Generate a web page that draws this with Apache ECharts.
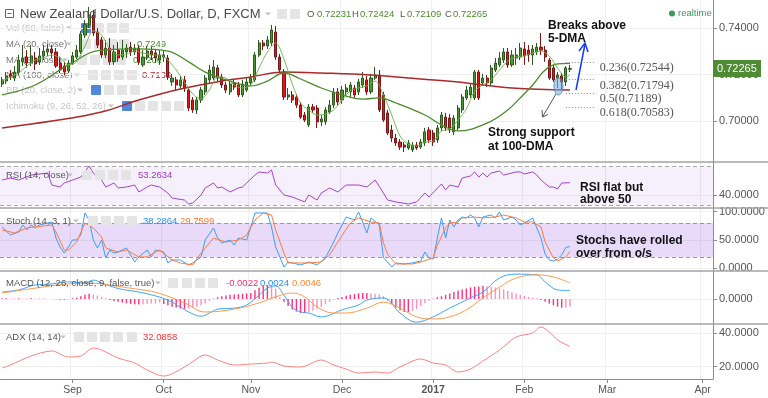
<!DOCTYPE html>
<html>
<head>
<meta charset="utf-8">
<title>NZD/USD D</title>
<script src="https://cdn.jsdelivr.net/npm/echarts@6.0.0/dist/echarts.min.js"></script>
<style>
  html, body { margin: 0; padding: 0; background: #fff; }
  #chart { width: 768px; height: 398px; }
</style>
</head>
<body>
<div id="chart"></div>
<script>
// one category per weekday, first bar Tue 9 Aug 2016, axis runs into early April 2017
const days = []
for (let d = new Date(Date.UTC(2016, 7, 9)); days.length < 172; d.setUTCDate(d.getUTCDate() + 1)) {
    const wd = d.getUTCDay()
    if (wd !== 0 && wd !== 6) days.push(d.toISOString().slice(0, 10))
}
const monthNames = ['Jan', 'Feb', 'Mar', 'Apr', 'May', 'Jun', 'Jul', 'Aug', 'Sep', 'Oct', 'Nov', 'Dec']

// daily candles [open, close, low, high]
const candles = [
    [0.7159, 0.7177, 0.7146, 0.7190], [0.7172, 0.7194, 0.7159, 0.7211], [0.7203, 0.7190, 0.7177, 0.7220], [0.7185, 0.7211, 0.7172, 0.7237],
    [0.7207, 0.7263, 0.7198, 0.7285], [0.7255, 0.7272, 0.7237, 0.7328], [0.7276, 0.7250, 0.7229, 0.7306], [0.7250, 0.7281, 0.7237, 0.7328],
    [0.7272, 0.7246, 0.7220, 0.7298], [0.7255, 0.7281, 0.7242, 0.7315], [0.7281, 0.7302, 0.7263, 0.7328], [0.7298, 0.7311, 0.7281, 0.7332],
    [0.7311, 0.7294, 0.7272, 0.7328], [0.7298, 0.7237, 0.7229, 0.7315], [0.7250, 0.7220, 0.7207, 0.7272], [0.7237, 0.7211, 0.7198, 0.7255],
    [0.7216, 0.7250, 0.7207, 0.7263], [0.7250, 0.7281, 0.7242, 0.7298], [0.7276, 0.7306, 0.7268, 0.7328], [0.7298, 0.7376, 0.7289, 0.7389],
    [0.7371, 0.7415, 0.7358, 0.7436], [0.7415, 0.7458, 0.7402, 0.7493], [0.7458, 0.7380, 0.7367, 0.7480], [0.7384, 0.7328, 0.7315, 0.7402],
    [0.7350, 0.7285, 0.7272, 0.7363], [0.7285, 0.7315, 0.7272, 0.7350], [0.7315, 0.7255, 0.7242, 0.7358], [0.7255, 0.7298, 0.7242, 0.7328],
    [0.7306, 0.7272, 0.7255, 0.7341], [0.7276, 0.7306, 0.7263, 0.7350], [0.7298, 0.7315, 0.7272, 0.7332], [0.7319, 0.7298, 0.7281, 0.7341],
    [0.7298, 0.7315, 0.7285, 0.7332], [0.7315, 0.7255, 0.7242, 0.7328], [0.7242, 0.7276, 0.7233, 0.7306], [0.7276, 0.7302, 0.7263, 0.7324],
    [0.7302, 0.7285, 0.7263, 0.7319], [0.7294, 0.7272, 0.7250, 0.7311], [0.7263, 0.7285, 0.7242, 0.7306], [0.7276, 0.7285, 0.7255, 0.7306],
    [0.7272, 0.7190, 0.7177, 0.7285], [0.7168, 0.7185, 0.7151, 0.7203], [0.7177, 0.7155, 0.7133, 0.7190], [0.7151, 0.7177, 0.7138, 0.7194],
    [0.7177, 0.7142, 0.7125, 0.7194], [0.7133, 0.7055, 0.7042, 0.7146], [0.7090, 0.7047, 0.7034, 0.7103], [0.7047, 0.7090, 0.7029, 0.7103],
    [0.7090, 0.7133, 0.7077, 0.7146], [0.7125, 0.7185, 0.7112, 0.7198], [0.7177, 0.7220, 0.7164, 0.7242], [0.7185, 0.7233, 0.7177, 0.7263],
    [0.7229, 0.7185, 0.7168, 0.7242], [0.7190, 0.7155, 0.7142, 0.7203], [0.7155, 0.7133, 0.7120, 0.7168], [0.7125, 0.7159, 0.7112, 0.7177],
    [0.7164, 0.7146, 0.7133, 0.7177], [0.7155, 0.7112, 0.7103, 0.7168], [0.7112, 0.7159, 0.7103, 0.7177], [0.7133, 0.7168, 0.7125, 0.7185],
    [0.7164, 0.7185, 0.7151, 0.7203], [0.7177, 0.7285, 0.7168, 0.7298], [0.7285, 0.7337, 0.7276, 0.7350], [0.7337, 0.7324, 0.7306, 0.7350],
    [0.7324, 0.7350, 0.7311, 0.7367], [0.7337, 0.7393, 0.7324, 0.7415], [0.7384, 0.7276, 0.7263, 0.7410], [0.7276, 0.7220, 0.7207, 0.7289],
    [0.7211, 0.7103, 0.7090, 0.7224], [0.7103, 0.7112, 0.7090, 0.7142], [0.7112, 0.7090, 0.7077, 0.7129], [0.7103, 0.7068, 0.7055, 0.7116],
    [0.7068, 0.7016, 0.7008, 0.7081], [0.7025, 0.7003, 0.6995, 0.7038], [0.6982, 0.7060, 0.6973, 0.7073], [0.7060, 0.7047, 0.7034, 0.7073],
    [0.7055, 0.6995, 0.6969, 0.7068], [0.6995, 0.7008, 0.6977, 0.7025], [0.6995, 0.7047, 0.6982, 0.7060], [0.7038, 0.7068, 0.7029, 0.7090],
    [0.7068, 0.7125, 0.7055, 0.7142], [0.7125, 0.7081, 0.7068, 0.7142], [0.7090, 0.7133, 0.7073, 0.7151], [0.7125, 0.7142, 0.7107, 0.7159],
    [0.7125, 0.7155, 0.7103, 0.7168], [0.7142, 0.7112, 0.7099, 0.7155], [0.7125, 0.7168, 0.7112, 0.7181], [0.7155, 0.7185, 0.7142, 0.7211],
    [0.7177, 0.7125, 0.7112, 0.7194], [0.7125, 0.7185, 0.7116, 0.7203], [0.7185, 0.7198, 0.7177, 0.7233], [0.7198, 0.7047, 0.7038, 0.7220],
    [0.7112, 0.7003, 0.6995, 0.7125], [0.7034, 0.6947, 0.6938, 0.7047], [0.6960, 0.6925, 0.6908, 0.6982], [0.6925, 0.6904, 0.6891, 0.6943],
    [0.6908, 0.6886, 0.6874, 0.6921], [0.6895, 0.6886, 0.6865, 0.6908], [0.6882, 0.6904, 0.6874, 0.6917], [0.6874, 0.6895, 0.6865, 0.6908],
    [0.6895, 0.6882, 0.6874, 0.6908], [0.6886, 0.6908, 0.6878, 0.6921], [0.6904, 0.6952, 0.6891, 0.6969], [0.6960, 0.6917, 0.6904, 0.6973],
    [0.6947, 0.6908, 0.6891, 0.6960], [0.6917, 0.6969, 0.6904, 0.6982], [0.6969, 0.7025, 0.6956, 0.7038], [0.7016, 0.6969, 0.6956, 0.7034],
    [0.7012, 0.6960, 0.6947, 0.7029], [0.6952, 0.7012, 0.6938, 0.7025], [0.6969, 0.7055, 0.6960, 0.7068], [0.7047, 0.7103, 0.7034, 0.7116],
    [0.7099, 0.7133, 0.7090, 0.7151], [0.7112, 0.7146, 0.7099, 0.7159], [0.7099, 0.7211, 0.7090, 0.7220], [0.7211, 0.7099, 0.7090, 0.7220],
    [0.7164, 0.7185, 0.7151, 0.7203], [0.7185, 0.7164, 0.7146, 0.7198], [0.7164, 0.7229, 0.7151, 0.7242], [0.7220, 0.7250, 0.7211, 0.7272],
    [0.7242, 0.7272, 0.7233, 0.7298], [0.7263, 0.7298, 0.7250, 0.7315], [0.7298, 0.7242, 0.7229, 0.7315], [0.7242, 0.7285, 0.7233, 0.7306],
    [0.7272, 0.7285, 0.7242, 0.7315], [0.7276, 0.7315, 0.7263, 0.7337], [0.7311, 0.7281, 0.7242, 0.7341], [0.7306, 0.7285, 0.7255, 0.7328],
    [0.7285, 0.7311, 0.7242, 0.7328], [0.7298, 0.7319, 0.7285, 0.7337], [0.7319, 0.7306, 0.7285, 0.7380], [0.7306, 0.7276, 0.7255, 0.7324],
    [0.7263, 0.7185, 0.7177, 0.7272], [0.7229, 0.7177, 0.7168, 0.7242], [0.7185, 0.7198, 0.7142, 0.7211], [0.7194, 0.7168, 0.7133, 0.7207],
    [0.7168, 0.7229, 0.7151, 0.7237], [0.72231, 0.72265, 0.72109, 0.72424]
]

// moving averages: [bar index, value]
const ma5 = [[0, 0.7172], [2, 0.7190], [4, 0.7207], [6, 0.7237], [8, 0.7263], [10, 0.7272], [12, 0.7285], [14, 0.7272], [16, 0.7242], [18, 0.7255],
    [20, 0.7324], [22, 0.7389], [24, 0.7371], [26, 0.7311], [28, 0.7285], [30, 0.7289], [32, 0.7302], [34, 0.7294], [36, 0.7285], [38, 0.7285],
    [40, 0.7263], [42, 0.7220], [44, 0.7168], [46, 0.7116], [48, 0.7094], [50, 0.7133], [52, 0.7190], [54, 0.7185], [56, 0.7155], [58, 0.7142],
    [60, 0.7155], [62, 0.7229], [64, 0.7298], [66, 0.7337], [68, 0.7268], [70, 0.7159], [72, 0.7077], [74, 0.7047], [76, 0.7025], [78, 0.7029],
    [80, 0.7047], [82, 0.7090], [84, 0.7129], [86, 0.7142], [88, 0.7151], [90, 0.7172], [92, 0.7112], [94, 0.7025], [96, 0.6934], [98, 0.6899],
    [100, 0.6891], [102, 0.6908], [104, 0.6912], [106, 0.6956], [108, 0.6964], [110, 0.7003], [112, 0.7051], [114, 0.7129], [116, 0.7155], [118, 0.7177],
    [120, 0.7220], [122, 0.7259], [124, 0.7276], [126, 0.7281], [128, 0.7294], [130, 0.7302], [132, 0.7281], [134, 0.7229], [136, 0.7190], [137, 0.7198]]
const ma20 = [[0, 0.7112], [8, 0.7155], [16, 0.7242], [24, 0.7306], [33, 0.7311], [40, 0.7302], [45, 0.7255], [49, 0.7211], [54, 0.7177], [60, 0.7151],
    [64, 0.7172], [68, 0.7207], [72, 0.7181], [77, 0.7142], [83, 0.7107], [87, 0.7094], [91, 0.7099], [95, 0.7077], [102, 0.7025], [106, 0.6982],
    [110, 0.6956], [117, 0.6990], [122, 0.7047], [125, 0.7099], [128, 0.7155], [131, 0.7220], [134, 0.7246], [137, 0.7249]]
const ma100 = [[0, 0.6969], [12, 0.6999], [24, 0.7038], [33, 0.7090], [43, 0.7138], [53, 0.7172], [60, 0.7190], [68, 0.7211], [77, 0.7207],
    [89, 0.7198], [101, 0.7181], [110, 0.7168], [123, 0.7142], [137, 0.7133]]

// retracement levels drawn on the chart
const fibRatios = ['0.236', '0.382', '0.5', '0.618']
const fibLevels = [0.72544, 0.71794, 0.71189, 0.70583]

// indicators
const rsi = [[0, 56.1], [2, 58.2], [4, 56.1], [7, 61.3], [11, 63.4], [12, 50.9], [14, 48.8], [15, 53.0], [17, 56.1], [19, 59.2], [21, 70.7], [22, 63.4],
    [24, 56.1], [25, 48.8], [27, 53.0], [28, 47.8], [30, 48.8], [32, 50.9], [33, 43.6], [35, 48.8], [36, 50.9], [38, 48.8], [40, 42.5], [41, 37.3],
    [44, 35.2], [45, 31.1], [46, 32.1], [48, 40.5], [49, 47.8], [51, 53.0], [52, 47.8], [53, 48.8], [55, 43.6], [57, 47.8], [58, 48.8], [61, 61.3],
    [62, 64.5], [64, 63.4], [65, 66.6], [66, 50.9], [68, 40.5], [70, 38.4], [73, 33.2], [74, 40.5], [76, 35.2], [77, 42.5], [79, 47.8], [81, 43.6],
    [83, 50.9], [86, 50.9], [88, 48.8], [90, 56.1], [92, 42.5], [93, 35.2], [95, 33.2], [98, 31.1], [100, 33.2], [102, 42.5], [103, 38.4], [106, 52.0],
    [107, 45.7], [108, 50.9], [110, 48.8], [111, 58.2], [113, 60.3], [114, 64.5], [115, 59.2], [116, 63.4], [117, 59.2], [118, 63.4], [120, 65.5],
    [121, 61.3], [124, 64.5], [125, 64.5], [126, 62.4], [128, 64.5], [129, 61.3], [130, 56.1], [132, 48.8], [133, 48.8], [134, 46.7], [135, 53.0], [137, 53.26]]
const stochK = [[0, 73.0], [2, 58.8], [4, 64.1], [5, 76.5], [6, 67.7], [7, 76.5], [8, 71.2], [9, 76.5], [11, 80.0], [12, 81.8], [13, 53.5], [14, 37.6],
    [15, 27.0], [16, 37.6], [17, 50.0], [18, 50.0], [19, 58.8], [20, 97.7], [21, 85.3], [22, 50.0], [23, 35.9], [24, 50.0], [25, 18.2], [26, 32.3],
    [27, 27.0], [28, 28.8], [30, 35.9], [31, 23.5], [32, 11.1], [33, 20.0], [35, 32.3], [36, 20.0], [37, 32.3], [39, 28.8], [40, 9.4], [41, 14.7],
    [43, 14.7], [45, 5.8], [46, 9.4], [48, 20.0], [49, 50.0], [51, 71.2], [52, 53.5], [53, 44.7], [55, 50.0], [56, 41.2], [57, 53.5], [59, 50.0],
    [60, 73.0], [61, 97.7], [62, 97.7], [64, 97.7], [65, 73.0], [66, 37.6], [68, 2.3], [69, 11.1], [70, 9.4], [72, 5.8], [74, 11.1], [76, 5.8],
    [78, 18.2], [80, 46.5], [81, 62.4], [83, 90.6], [85, 85.3], [86, 99.5], [87, 81.8], [88, 62.4], [89, 88.9], [91, 76.5], [92, 18.2], [93, 11.1],
    [94, 2.3], [95, 9.4], [97, 7.6], [99, 9.4], [101, 12.9], [102, 28.8], [103, 18.2], [104, 16.4], [105, 53.5], [106, 88.9], [107, 53.5], [108, 85.3],
    [109, 73.0], [110, 85.3], [111, 90.6], [112, 88.9], [113, 94.2], [114, 88.9], [115, 73.0], [116, 90.6], [118, 94.2], [119, 88.9], [120, 99.5],
    [121, 85.3], [123, 90.6], [124, 85.3], [125, 76.5], [126, 80.0], [128, 88.9], [129, 71.2], [130, 53.5], [131, 25.0], [132, 14.7], [133, 12.9],
    [134, 16.4], [135, 23.5], [136, 37.0], [137, 38.29]]
const stochD = [[0, 67.7], [3, 62.4], [6, 71.2], [8, 73.0], [12, 76.5], [13, 64.1], [15, 32.3], [16, 32.3], [18, 46.5], [20, 80.0], [22, 71.2],
    [24, 55.3], [25, 35.9], [28, 28.8], [30, 32.3], [33, 20.0], [35, 20.0], [38, 32.3], [41, 14.7], [43, 9.4], [46, 5.8], [48, 27.0], [51, 53.5],
    [54, 46.5], [57, 50.0], [59, 58.8], [61, 85.3], [63, 97.7], [65, 94.2], [66, 67.7], [68, 27.0], [69, 9.4], [72, 9.4], [74, 9.4], [77, 11.1],
    [79, 23.5], [81, 46.5], [84, 80.0], [86, 88.9], [89, 81.8], [91, 80.0], [92, 45.0], [93, 25.0], [95, 7.6], [99, 7.6], [101, 11.1], [104, 18.2],
    [105, 41.2], [107, 71.2], [108, 80.0], [110, 81.8], [111, 88.9], [114, 90.6], [116, 88.9], [119, 90.6], [121, 94.2], [124, 88.9], [126, 81.8],
    [128, 81.8], [130, 73.0], [131, 46.5], [133, 18.2], [134, 12.9], [136, 20.0], [137, 29.76]]
const macdLine = [[0, 0.0020], [4, 0.0026], [8, 0.0040], [12, 0.0043], [16, 0.0049], [20, 0.0046], [22, 0.0054], [24, 0.0046], [28, 0.0030],
    [32, 0.0022], [36, 0.0012], [40, -0.0003], [43, -0.0023], [45, -0.0037], [48, -0.0049], [50, -0.0040], [52, -0.0029], [56, -0.0026],
    [59, -0.0017], [62, 0.0011], [64, 0.0031], [66, 0.0037], [68, 0.0011], [70, -0.0023], [72, -0.0037], [74, -0.0040], [77, -0.0051],
    [79, -0.0046], [82, -0.0031], [86, -0.0017], [88, -0.0003], [92, 0.0003], [96, -0.0040], [100, -0.0066], [104, -0.0051], [108, -0.0026],
    [113, 0.0003], [116, 0.0020], [120, 0.0060], [124, 0.0071], [129, 0.0069], [131, 0.0049], [134, 0.0026], [137, 0.0024]]
const macdSignal = [[0, 0.0017], [8, 0.0031], [16, 0.0043], [22, 0.0045], [28, 0.0036], [32, 0.0029], [36, 0.0022], [40, 0.0008], [44, -0.0011],
    [49, -0.0037], [56, -0.0029], [62, -0.0011], [66, 0.0006], [70, 0.0017], [73, 0.0006], [76, -0.0023], [80, -0.0040], [83, -0.0040],
    [88, -0.0026], [92, -0.0009], [96, -0.0026], [100, -0.0051], [104, -0.0057], [108, -0.0051], [112, -0.0031], [116, 0.0003], [120, 0.0034],
    [124, 0.0060], [129, 0.0069], [133, 0.0063], [137, 0.0046]]
const macdHist = [
    0.0002, 0.0002, 0.0001, 0.0001, 0.0002, 0.0001, 0.0001, 0.0002, 0.0001, 0.0001, 0.0001, 0, 0,
    -0.0001, -0.0002, -0.0002, -0.0001,
    0.0002, 0.0004, 0.0008, 0.0012, 0.0015, 0.0013, 0.0010, 0.0006, 0.0002,
    -0.0003, -0.0006, -0.0008, -0.0010, -0.0012, -0.0014, -0.0015, -0.0016, -0.0015, -0.0014, -0.0013, -0.0012, -0.0010,
    -0.0014, -0.0018, -0.0022, -0.0025, -0.0027, -0.0028, -0.0027, -0.0025, -0.0022, -0.0018, -0.0012,
    -0.0005, 0.0002, 0.0005, 0.0008, 0.0010, 0.0012, 0.0013, 0.0014, 0.0015, 0.0016, 0.0017,
    0.0025, 0.0032, 0.0038, 0.0040, 0.0038, 0.0030,
    0.0005, -0.0008, -0.0020, -0.0030, -0.0036, -0.0040, -0.0040, -0.0037, -0.0033, -0.0028, -0.0022, -0.0015, -0.0008, -0.0002,
    0.0003, 0.0006, 0.0009, 0.0012, 0.0014, 0.0016, 0.0017, 0.0017, 0.0016, 0.0015, 0.0013, 0.0008,
    -0.0005, -0.0015, -0.0025, -0.0032, -0.0037, -0.0037, -0.0034, -0.0028, -0.0020,
    -0.0012, -0.0005, 0.0002, 0.0005,
    0.0008, 0.0012, 0.0016, 0.0020, 0.0024, 0.0027, 0.0030, 0.0033, 0.0035, 0.0036, 0.0037, 0.0036, 0.0035, 0.0033, 0.0030, 0.0027,
    0.0023, 0.0019, 0.0015, 0.0012, 0.0009, 0.0006, 0.0004, 0.0002,
    -0.0003, -0.0008, -0.0013, -0.0018, -0.0022, -0.0025, -0.0024, -0.0022
]
const adx = [[0, 19.2], [2, 21.0], [7, 26.4], [12, 29.4], [16, 25.8], [19, 26.4], [22, 31.2], [24, 30.0], [28, 25.2], [32, 22.2], [35, 18.0],
    [39, 14.4], [44, 19.8], [48, 26.4], [49, 27.0], [52, 24.0], [56, 21.0], [60, 21.6], [64, 22.2], [65, 22.8], [68, 20.4], [72, 19.8], [77, 24.0],
    [80, 21.0], [83, 18.6], [86, 16.2], [90, 16.8], [93, 16.2], [96, 19.8], [101, 24.6], [104, 22.2], [107, 21.0], [110, 16.8], [113, 18.6],
    [116, 23.4], [120, 30.0], [124, 37.8], [128, 40.2], [130, 43.8], [132, 40.8], [134, 36.0], [137, 32.09]]

// right-hand tick labels per pane
const priceTicks = [0.70, 0.72, 0.74]
const rsiTicks = [40]
const stochTicks = [0, 50, 100]
const macdTicks = [0]
const adxTicks = [20, 40]

const sans = '"Liberation Sans", Arial, sans-serif'
const isMonthStart = (i, v) => i > 0 && v.slice(5, 7) !== days[i - 1].slice(5, 7)

// 5 stacked panes sharing the time axis
const panes = [
    { top: 0, height: 162 },
    { top: 162, height: 46 },
    { top: 208, height: 63 },
    { top: 271, height: 53 },
    { top: 324, height: 55 }
]

const xAxes = panes.map((p, g) => ({
    type: 'category',
    gridIndex: g,
    data: days,
    boundaryGap: true,
    axisLine: { show: g === 4, lineStyle: { color: '#8c8c8c' } },
    axisTick: { show: g === 4, alignWithLabel: true, interval: isMonthStart, length: 4, lineStyle: { color: '#8c8c8c' } },
    axisLabel: {
        show: g === 4,
        interval: isMonthStart,
        margin: 6,
        color: '#555',
        fontSize: 10.5,
        fontFamily: sans,
        formatter: (v) => {
            const m = +v.slice(5, 7) - 1
            return m === 0 ? '{yr|' + v.slice(0, 4) + '}' : monthNames[m]
        },
        rich: { yr: { fontWeight: 'bold', color: '#555', fontSize: 10.5, fontFamily: sans } }
    },
    splitLine: { show: true, interval: isMonthStart, lineStyle: { color: '#efefef' } }
}))

function yAxisFor(g, min, max, ticks, digits) {
    return {
        type: 'value',
        gridIndex: g,
        position: 'right',
        min: min,
        max: max,
        axisLine: { show: true, lineStyle: { color: '#8c8c8c' } },
        axisTick: { show: true, length: 4, customValues: ticks, lineStyle: { color: '#8c8c8c' } },
        axisLabel: { customValues: ticks, formatter: (v) => v.toFixed(digits), color: '#555', fontSize: 11, fontFamily: sans, margin: 6 },
        splitLine: { show: true, lineStyle: { color: '#f0f0f0' } }
    }
}

const yAxes = [
    yAxisFor(0, 0.68215, 0.7523, priceTicks, 5),
    yAxisFor(1, 26.9, 74.9, rsiTicks, 4),
    yAxisFor(2, -4.8, 106.5, stochTicks, 4),
    yAxisFor(3, -0.00714, 0.0080, macdTicks, 4),
    yAxisFor(4, 12.63, 45.57, adxTicks, 4)
]

const lineSeries = (g, data, color, width, smooth) => ({
    type: 'line', xAxisIndex: g, yAxisIndex: g, data: data, symbol: 'none', smooth: smooth,
    lineStyle: { color: color, width: width }, z: 3
})

// small helpers for the TradingView-style legend and notes
const text = (x, y, str, color, font, z) => ({
    type: 'text', x: x, y: y, z: z === undefined ? 50 : z, silent: true,
    style: { text: str, fill: color, font: font || ('9.5px ' + sans), align: 'left', verticalAlign: 'middle' }
})
const note = (x, y, str) => text(x, y, str, '#111', 'bold 12px ' + sans, 100)
const caret = (x, y, z) => ({
    type: 'polygon', z: z === undefined ? 50 : z, silent: true,
    shape: { points: [[x - 3, y - 1.5], [x + 3, y - 1.5], [x, y + 1.5]] }, style: { fill: '#c0c0c0' }
})
const buttons = (y, xs, blueAt, z) => xs.map((x, k) => ({
    type: 'rect', z: z === undefined ? 50 : z, silent: true,
    shape: { x: x, y: y - 5, width: 10, height: 10, r: 1 },
    style: { fill: k === blueAt ? '#5286db' : '#e4e4e4' }
}))

const last = candles[candles.length - 1]
const green = '#4a8c2b'
const lightGrey = '#c6c6c6'
const midGrey = '#777'
const under = -10 // main-pane legend sits beneath the candles

const graphics = [
    // pane separators
    ...[162, 208, 271, 324].map(y => ({ type: 'line', z: 60, silent: true, shape: { x1: 0, y1: y, x2: 768, y2: y }, style: { stroke: '#a3a3a3', lineWidth: 1.5 } })),
    // title row
    { type: 'rect', z: 50, silent: true, shape: { x: 5.5, y: 9.5, width: 8, height: 8 }, style: { fill: 'none', stroke: '#666', lineWidth: 1 } },
    { type: 'line', z: 50, silent: true, shape: { x1: 7.5, y1: 13.5, x2: 11.5, y2: 13.5 }, style: { stroke: '#666', lineWidth: 1 } },
    text(20, 14, 'New Zealand Dollar/U.S. Dollar, D, FXCM', '#4a4a4a', '13px ' + sans),
    caret(268, 14), ...buttons(14, [277, 290]),
    text(307, 14, 'O', '#555'), text(317, 14, last[0].toFixed(5), green),
    text(352, 14, 'H', '#555'), text(360, 14, last[3].toFixed(5), green),
    text(400, 14, 'L', '#555'), text(407, 14, last[2].toFixed(5), green),
    text(445, 14, 'C', '#555'), text(453, 14, last[1].toFixed(5), green),
    { type: 'circle', z: 50, silent: true, shape: { cx: 672, cy: 13.5, r: 3 }, style: { fill: '#3a9a5c' } },
    text(678, 13.5, 'realtime', '#3a9a5c'),
    // main pane legend rows
    text(6, 28, 'Vol (50, false)', lightGrey, null, under), caret(69, 28, under), ...buttons(28, [81, 94, 107, 119], 0, under),
    text(6, 44, 'MA (20, close)', midGrey, null, under), caret(69, 44, under), ...buttons(44, [81, 94, 107, 119], -1, under),
    text(137, 44, '0.7249', green, null, under),
    text(6, 60, 'MA (5, close)', midGrey, null, under), caret(65, 60, under), ...buttons(60, [77, 90, 103, 116], -1, under),
    text(133, 60, '0.7206', green, null, under),
    text(6, 75, 'MA (100, close)', midGrey, null, under), caret(77, 75, under), ...buttons(75, [88, 101, 114, 127], -1, under),
    text(142, 75, '0.7133', '#b02a2a', null, under),
    text(6, 90, 'BB (20, close, 2)', lightGrey, null, under), caret(80, 90, under), ...buttons(90, [91, 104, 117, 130], 0, under),
    text(6, 106, 'Ichimoku (9, 26, 52, 26)', lightGrey, null, under), caret(111, 106, under), ...buttons(106, [122, 135, 148, 161, 174], 0, under),
    // indicator legends
    text(6, 175, 'RSI (14, close)', '#555'), caret(70, 175), ...buttons(175, [82, 95, 108, 121]),
    text(138, 175, '53.2634', '#9b3dbf'),
    text(6, 221, 'Stoch (14, 3, 1)', '#555'), caret(76, 221), ...buttons(221, [88, 101, 114, 127]),
    text(143, 221, '38.2864', '#2d8cf0'), text(180, 221, '29.7599', '#ff7733'),
    text(6, 283, 'MACD (12, 26, close, 9, false, true)', '#555'), caret(158, 283), ...buttons(283, [168, 182, 195, 208]),
    text(226, 283, '-0.0022', '#ff2a72'), text(260, 283, '0.0024', '#2d8cf0'), text(292, 283, '0.0046', '#ff8a30'),
    text(6, 337, 'ADX (14, 14)', '#555'), caret(63, 337), ...buttons(337, [74, 87, 100, 113, 127]),
    text(143, 337, '32.0858', '#ff3333'),
    // analyst notes
    note(548, 26, 'Breaks above'), note(548, 39, '5-DMA'),
    note(488, 133, 'Strong support'), note(488, 147, 'at 100-DMA'),
    note(580, 188, 'RSI flat but'), note(580, 199.5, 'above 50'),
    note(576, 241, 'Stochs have rolled'), note(576, 254, 'over from o/s'),
    { type: 'ellipse', z: 100, silent: true, shape: { cx: 558.5, cy: 86.5, rx: 4.5, ry: 8.5 }, style: { fill: 'rgba(120,170,220,0.55)', stroke: '#5b8fc7', lineWidth: 1 } },
    { type: 'line', z: 100, silent: true, shape: { x1: 576, y1: 90, x2: 585, y2: 44 }, style: { stroke: '#1537ff', lineWidth: 1.5 } },
    { type: 'polyline', z: 100, silent: true, shape: { points: [[579, 51], [585, 43], [588, 52]] }, style: { stroke: '#1537ff', lineWidth: 1.5, fill: 'none' } },
    { type: 'line', z: 100, silent: true, shape: { x1: 556, y1: 94, x2: 543, y2: 116 }, style: { stroke: '#555', lineWidth: 1 } },
    { type: 'polyline', z: 100, silent: true, shape: { points: [[542, 110], [542.5, 117], [548, 114.5]] }, style: { stroke: '#555', lineWidth: 1, fill: 'none' } },
    // last price tag on the axis
    { type: 'rect', z: 100, silent: true, shape: { x: 713, y: 60, width: 48, height: 17 }, style: { fill: '#4f8a34' } },
    text(717, 68.5, last[1].toFixed(5), '#fff', '11px ' + sans, 101)
]

const chart = echarts.init(document.getElementById('chart'))
chart.setOption({
    animation: false,
    textStyle: { fontFamily: sans },
    grid: panes.map(p => ({ left: 0, right: 55, top: p.top, height: p.height })),
    xAxis: xAxes,
    yAxis: yAxes,
    series: [
        {
            type: 'candlestick', xAxisIndex: 0, yAxisIndex: 0, data: candles, barWidth: 2.6,
            itemStyle: { color: '#4d9a30', color0: '#e8161b', borderColor: '#2c5a1c', borderColor0: '#7a1616', borderWidth: 1 },
            markLine: {
                silent: true, symbol: 'none',
                lineStyle: { type: [1, 2], color: '#8a8a8a', width: 1 },
                label: {
                    show: true, position: 'end', distance: 5, verticalAlign: 'top',
                    color: '#555', fontFamily: '"Liberation Serif", serif', fontSize: 12,
                    formatter: (p) => fibRatios[p.dataIndex] + '(' + fibLevels[p.dataIndex].toFixed(5) + ')'
                },
                data: fibLevels.map(v => [{ coord: [days[136], v] }, { coord: [days[143], v] }])
            }
        },
        lineSeries(0, ma100, '#a82a2a', 1.5, 0.4),
        lineSeries(0, ma20, '#4a8a2b', 1.3, 0.4),
        lineSeries(0, ma5, '#6cb04a', 0.9, 0.3),
        {
            ...lineSeries(1, rsi, '#a044c8', 1, false),
            markArea: { silent: true, itemStyle: { color: 'rgba(160, 80, 220, 0.09)' }, data: [[{ yAxis: 30 }, { yAxis: 70 }]] },
            markLine: { silent: true, symbol: 'none', label: { show: false }, lineStyle: { type: [4, 3], color: '#a8a8a8', width: 1 }, data: [{ yAxis: 30 }, { yAxis: 70 }] }
        },
        {
            ...lineSeries(2, stochK, '#3b9cf5', 1, false),
            markArea: { silent: true, itemStyle: { color: 'rgba(150, 70, 230, 0.2)' }, data: [[{ yAxis: 20 }, { yAxis: 80 }]] },
            markLine: { silent: true, symbol: 'none', label: { show: false }, lineStyle: { type: [4, 3], color: '#999', width: 1 }, data: [{ yAxis: 20 }, { yAxis: 80 }] }
        },
        lineSeries(2, stochD, '#ff7b3a', 1, false),
        {
            type: 'bar', xAxisIndex: 3, yAxisIndex: 3, barWidth: 1.4,
            data: macdHist.map((v, i) => ({
                value: v,
                itemStyle: { color: (i > 0 && Math.abs(v) < Math.abs(macdHist[i - 1])) ? '#ff8fbb' : '#ff2f7d' }
            }))
        },
        lineSeries(3, macdLine, '#3ea6f5', 1, 0.4),
        lineSeries(3, macdSignal, '#ff9a4a', 1, 0.4),
        lineSeries(4, adx, '#ff7f7f', 1, 0.3)
    ],
    graphic: graphics
})
</script>
</body>
</html>
